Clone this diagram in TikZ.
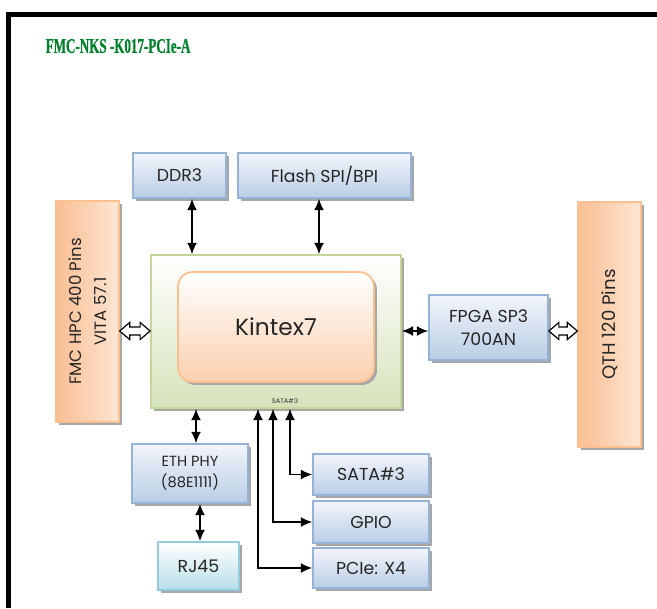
\documentclass[tikz,border=0pt]{standalone}
\usepackage{fontspec}
\setmainfont{Poppins}
\newfontfamily\titlefont[FakeStretch=0.62, BoldFeatures={FakeBold=0.6}]{Liberation Serif}
\usetikzlibrary{calc,arrows.meta,shadows}

\definecolor{titlegreen}{HTML}{00822A}
\definecolor{blueline}{HTML}{95B3D7}
\definecolor{bluetop}{HTML}{F2F5FB}
\definecolor{bluebot}{HTML}{B9CDE5}
\definecolor{cyanline}{HTML}{93CDDD}
\definecolor{cyanbot}{HTML}{B7DEE8}
\definecolor{greenline}{HTML}{C3D69B}
\definecolor{greenbot}{HTML}{D5E3BB}
\definecolor{peachline}{HTML}{FAC090}
\definecolor{peachbot}{HTML}{FBD0AE}
\definecolor{colleft}{HTML}{F9BE93}
\definecolor{colright}{HTML}{FDE6D3}

\tikzset{
  shade/.style={drop shadow={shadow xshift=2.2pt,shadow yshift=-2.2pt,fill=black!35,opacity=1}},
  blk/.style={draw=blueline, line width=1.3pt, top color=bluetop, bottom color=bluebot, shade,
    align=center, inner sep=0pt, text=black!85, font=\fontsize{13}{17}\selectfont},
  jack/.style={blk, draw=cyanline, top color=white, bottom color=cyanbot},
  column/.style={draw=peachline, line width=1pt, left color=colleft, right color=colright, shade,
    minimum width=47.25pt, inner sep=0pt},
  biarrow/.style={{Latex[length=8.5pt,width=7.5pt]}-{Latex[length=8.5pt,width=7.5pt]}, line width=1.1pt},
  hollow/.style={draw=black, fill=white, line width=0.9pt, line join=miter}
}
% outlined two-way block arrow between two points
\newcommand\hollowlink[2]{%
  \draw[hollow] (#1) -- ++(10,-8.5) -- ++(0,4.5) -- ($(#2)+(-10,-4)$) -- ++(0,-4.5)
    -- (#2) -- ++(-10,8.5) -- ++(0,-4.5) -- ($(#1)+(10,4)$) -- ++(0,4.5) -- cycle;}

\begin{document}
\begin{tikzpicture}[x=0.75pt,y=-0.75pt]
  \useasboundingbox (0,0) rectangle (657,608);
  % frame
  \draw[line width=3.75pt] (8.5,608) -- (8.5,14.5) -- (657,14.5);
  \node[anchor=west, text=titlegreen, font=\titlefont\bfseries\fontsize{15.8}{18}\selectfont] (title) at (41,46) {FMC-NKS -K017-PCIe-A};

  % FPGA
  \node (board) [draw=greenline, line width=1.3pt, top color=white, bottom color=greenbot, shade,
    minimum width=187.5pt, minimum height=114.75pt] at (276,331.5) {};
  \node (k7) [draw=peachline, line width=1.3pt, rounded corners=11pt, top color=white, bottom color=peachbot, shade,
    minimum width=147pt, minimum height=82.5pt, font=\fontsize{17.5}{20}\selectfont, text=black!85] at (276,327) {Kintex7};
  \node (satalbl) [font=\fontsize{5}{6}\selectfont, text=black!80] at (285,401) {SATA\#3};

  % memories
  \node (ddr3) [blk, minimum width=69.75pt, minimum height=33.75pt] at (179.5,175.5) {DDR3};
  \node (flash) [blk, minimum width=129.75pt, minimum height=33.75pt] at (324.5,175.5) {Flash SPI/BPI};

  % connectors
  \node (fmc) [column, minimum height=165.75pt] at (87.5,311.5) {};
  \node (fmctxt) [rotate=90, align=center, text=black!85, font=\fontsize{12.4}{19}\selectfont] at (fmc) {FMC HPC 400 Pins\\VITA 57.1};
  \node (qth) [column, minimum height=183.75pt] at (609.5,324.5) {};
  \node (qthtxt) [rotate=90, text=black!85, font=\fontsize{13.6}{17}\selectfont] at (qth) {QTH 120 Pins};
  \node (fpga) [blk, minimum width=89.25pt, minimum height=48.75pt] at (488.5,327.5) {FPGA SP3\\700AN};

  % peripherals
  \node (eth) [blk, minimum width=87pt, minimum height=44.25pt, font=\fontsize{11}{16}\selectfont] at (190,473.5) {ETH PHY\\(88E1111)};
  \node (rj45) [jack, minimum width=60.75pt, minimum height=36pt] at (198.5,566) {RJ45};
  \node (sata) [blk, minimum width=87pt, minimum height=30.75pt] at (371,474.5) {SATA\#3};
  \node (gpio) [blk, minimum width=87pt, minimum height=31.5pt] at (371,522) {GPIO};
  \node (pcie) [blk, minimum width=87pt, minimum height=30pt] at (371,568) {PCIe: X4};

  % links
  \coordinate (mid) at (0,331);
  \coordinate (ddrpin) at ($(ddr3.south)+(12.5,0)$);
  \coordinate (flashpin) at ($(flash.south)+(-5.5,0)$);
  \coordinate (ethpin) at ($(eth.north)+(6,0)$);
  \coordinate (rjpin) at ($(rj45.north)+(1.5,0)$);
  \draw[biarrow] (ddrpin) -- (ddrpin |- board.north);
  \draw[biarrow] (flashpin) -- (flashpin |- board.north);
  \hollowlink{fmc.east |- mid}{board.west |- mid}
  \draw[biarrow] (board.east |- mid) -- (fpga.west |- mid);
  \hollowlink{fpga.east |- mid}{qth.west |- mid}
  \draw[biarrow] (ethpin) -- (ethpin |- board.south);
  \draw[biarrow] (rjpin) -- (rjpin |- eth.south);
  \draw[biarrow] ($(board.south)+(14,0)$) |- (sata.west);
  \draw[biarrow] ($(board.south)+(-3,0)$) |- (gpio.west);
  \draw[biarrow] ($(board.south)+(-18,0)$) |- (pcie.west);
\end{tikzpicture}
\end{document}
